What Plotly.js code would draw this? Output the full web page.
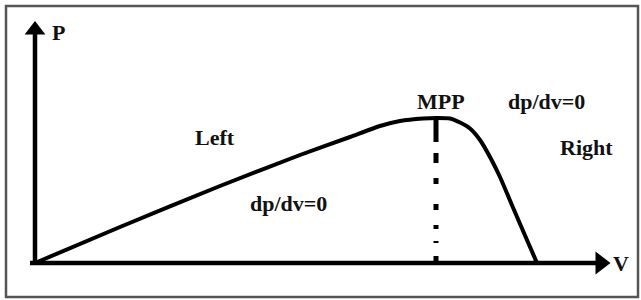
<!DOCTYPE html>
<html>
<head>
<meta charset="utf-8">
<script src="https://cdn.plot.ly/plotly-3.0.1.min.js"></script>
<style>html,body{margin:0;padding:0;background:#fff;}</style>
</head>
<body>
<div id="chart" style="width:641px;height:300px;"></div>
<script>
// P-V curve of a PV module (arbitrary units)
const voltage = [0, 8.5, 18.5, 26.5, 31.5, 34.5, 36.5, 38.8, 40.2, 41.5, 42.5, 43.5, 44.5, 45.5, 46.5, 47.8, 49.2, 50.2];
const power   = [0, 3.6, 7.7, 10.8, 12.6, 13.7, 14.2, 14.45, 14.5, 14.45, 14.05, 13.45, 12.3, 10.6, 8.6, 5.55, 2.3, 0];
const mppV = 40.1;
const mppP = 14.5;
const axisX = [-0.5, 56.1];
const axisY = [-0.2, 23.0];
const labels = ["P", "MPP", "dp/dv=0", "Right", "Left", "dp/dv=0", "V"];
const labelX = [2.3, 40.6, 51.1, 55.1, 18.0, 25.3, 58.6];
const labelY = [23.1, 16.2, 16.2, 11.6, 12.6, 6.0, 0.0];

const ink = "#000000";
const traces = [
  {x: [0, 0], y: axisY, mode: "lines", line: {color: ink, width: 4.5}, hoverinfo: "skip"},
  {x: axisX, y: [0, 0], mode: "lines", line: {color: ink, width: 4.5}, hoverinfo: "skip"},
  {x: [0], y: [axisY[1] + 0.3], mode: "markers", marker: {symbol: "triangle-up", size: 18, color: ink}, hoverinfo: "skip"},
  {x: [axisX[1] + 0.45], y: [0], mode: "markers", marker: {symbol: "triangle-right", size: 20, color: ink}, hoverinfo: "skip"},
  {x: [mppV, mppV], y: [mppP, 0], mode: "lines",
   line: {color: ink, width: 5, dash: "24px,11px,10px,15px,6px,20px,6px,15px,4px,12px,2px,13px,7px,10px"}, hoverinfo: "skip"},
  {x: voltage, y: power, mode: "lines", line: {color: ink, width: 4, shape: "spline", smoothing: 0.5}, hoverinfo: "skip"}
];

const annotations = labels.map((t, i) => ({
  x: labelX[i], y: labelY[i], xref: "x", yref: "y", text: "<b>" + t + "</b>",
  showarrow: false, xanchor: "center", yanchor: "middle",
  font: {family: "Liberation Serif", size: 22, color: "#111"}
}));

const layout = {
  width: 641, height: 300,
  margin: {l: 0, r: 0, t: 0, b: 0},
  paper_bgcolor: "#ffffff", plot_bgcolor: "#ffffff",
  showlegend: false,
  xaxis: {range: [-3.5, 60.6], visible: false, fixedrange: true},
  yaxis: {range: [-3.7, 26.3], visible: false, fixedrange: true},
  annotations: annotations,
  shapes: [{type: "rect", xref: "paper", yref: "paper",
            x0: 6/641, x1: 638/641, y0: 1 - 297/300, y1: 1 - 6/300,
            line: {color: "#555555", width: 2.5}, fillcolor: "rgba(0,0,0,0)"}]
};

Plotly.newPlot("chart", traces, layout, {staticPlot: true, displayModeBar: false});
</script>
</body>
</html>
